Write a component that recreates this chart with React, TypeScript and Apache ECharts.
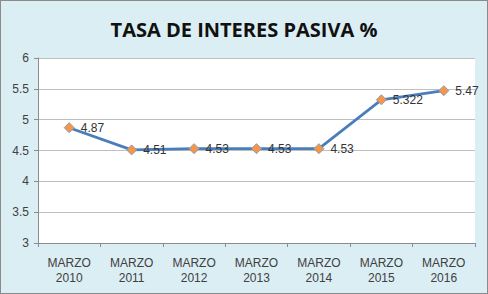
import React, { useEffect, useRef } from "react";
import * as echarts from "echarts";

const categories = ["MARZO\n2010", "MARZO\n2011", "MARZO\n2012", "MARZO\n2013", "MARZO\n2014", "MARZO\n2015", "MARZO\n2016"];
const values = [4.87, 4.51, 4.53, 4.53, 4.53, 5.322, 5.47];
const yTicks = { min: 3, max: 6, interval: 0.5 };
const titleText = "TASA DE INTERES PASIVA %";

export default function App() {
  const ref = useRef<HTMLDivElement>(null);
  useEffect(() => {
    document.body.style.margin = "0";
    const chart = echarts.init(ref.current!, undefined, { renderer: "svg" });
    chart.setOption({
      animation: false,
      backgroundColor: "#dbeef4",
      title: {
        text: titleText,
        left: "center",
        top: 13,
        textStyle: { fontFamily: "Open Sans", fontWeight: "bold", fontSize: 20, color: "#111" },
      },
      grid: { left: 37, right: 12, top: 57, bottom: 50, show: true, backgroundColor: "#ffffff", borderWidth: 0 },
      xAxis: {
        type: "category",
        data: categories,
        boundaryGap: true,
        axisLine: { lineStyle: { color: "#8c8c8c" } },
        axisTick: { show: true, length: 4, lineStyle: { color: "#8c8c8c" } },
        axisLabel: { color: "#404040", fontFamily: "Liberation Sans", fontSize: 12, lineHeight: 15, margin: 12, interval: 0 },
      },
      yAxis: {
        type: "value",
        min: yTicks.min,
        max: yTicks.max,
        interval: yTicks.interval,
        axisLine: { show: true, lineStyle: { color: "#8c8c8c" } },
        axisTick: { show: true, length: 4, lineStyle: { color: "#8c8c8c" } },
        axisLabel: { color: "#404040", fontFamily: "Liberation Sans", fontSize: 12, margin: 9 },
        splitLine: { lineStyle: { color: "#bfbfbf" } },
      },
      series: [
        {
          type: "line",
          data: values,
          symbol: "diamond",
          symbolSize: 10,
          lineStyle: { color: "#4a7ebb", width: 2.75 },
          itemStyle: { color: "#f79646", borderColor: "#8a9bb5", borderWidth: 1 },
          label: {
            show: true,
            position: "right",
            distance: 6,
            color: "#333",
            fontFamily: "Liberation Sans",
            fontSize: 12,
          },
        },
      ],
    });
    return () => chart.dispose();
  }, []);
  return (
    <div
      ref={ref}
      style={{
        position: "fixed",
        left: 0,
        top: 0,
        width: 488,
        height: 294,
        boxSizing: "border-box",
        border: "1px solid #8a8a8a",
      }}
    />
  );
}
